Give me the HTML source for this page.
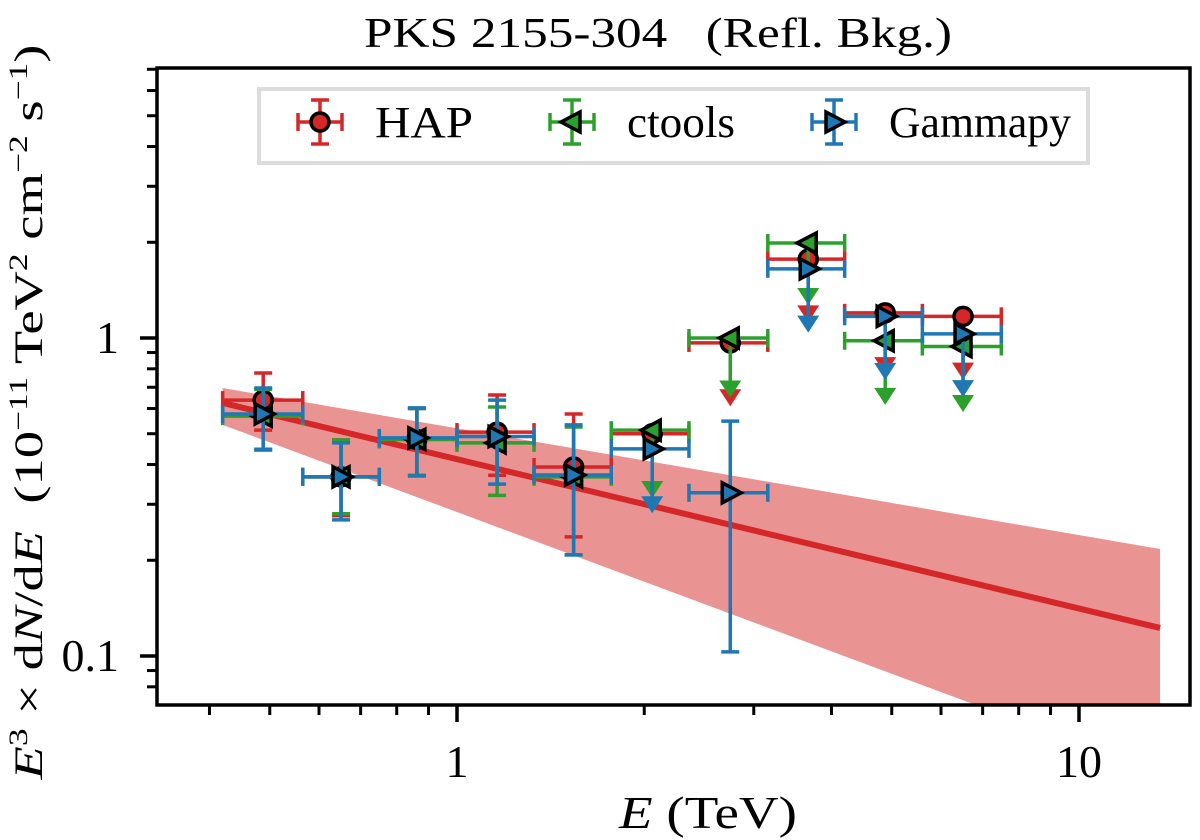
<!DOCTYPE html>
<html><head><meta charset="utf-8"><style>
html,body{margin:0;padding:0;background:#fff;}
svg{display:block;font-family:"Liberation Serif",serif;}
</style></head><body>
<svg id="chart" width="1200" height="840" viewBox="0 0 1200 840" xmlns="http://www.w3.org/2000/svg">
<defs><clipPath id="clip"><rect x="157" y="68" width="1033" height="637"/></clipPath></defs>
<text x="658" y="47" font-size="42" textLength="588" lengthAdjust="spacingAndGlyphs" text-anchor="middle">PKS 2155-304 &#160;&#160;(Refl. Bkg.)</text>
<g id="plot" clip-path="url(#clip)"></g>
<g id="axes"></g>
<text x="708" y="828" text-anchor="middle" font-size="46" textLength="178" lengthAdjust="spacingAndGlyphs"><tspan font-style="italic">E</tspan> (TeV)</text>
<text transform="translate(42,412) rotate(-90)" text-anchor="middle" font-size="40" textLength="735" lengthAdjust="spacingAndGlyphs"><tspan font-style="italic">E</tspan><tspan font-size="26" dy="-15">3</tspan><tspan dy="15"> × d</tspan><tspan font-style="italic">N</tspan>/d<tspan font-style="italic">E</tspan>&#160;&#160;(10<tspan font-size="26" dy="-15">−11</tspan><tspan dy="15"> TeV</tspan><tspan font-size="26" dy="-15">2</tspan><tspan dy="15"> cm</tspan><tspan font-size="26" dy="-15">−2</tspan><tspan dy="15"> s</tspan><tspan font-size="26" dy="-15">−1</tspan><tspan dy="15">)</tspan></text>
<g>
<rect x="259" y="89" width="829" height="74" fill="#fff" stroke="#dcdcdc" stroke-width="4"/>
<g id="legend-items"></g>
</g>
</svg>
<script>
const energies=[0.488,0.651,0.862,1.16,1.54,2.06,2.75,3.67,4.88,6.51];
const binLo=[0.420,0.565,0.750,1.0,1.33,1.77,2.36,3.16,4.2,5.6];
const binHi=[0.565,0.750,1.0,1.33,1.77,2.36,3.16,4.2,5.6,7.5];
const hapVal=[0.638,0.366,0.48,0.506,0.393,0.50,0.965,1.77,1.20,1.17];
const hapLo=[0.513,0.276,0.37,0.37,0.237,null,null,null,null,null];
const hapHi=[0.776,0.478,0.60,0.662,0.577,null,null,null,null,null];
const hapUL=[null,null,null,null,null,null,0.61,1.12,0.77,0.74];
const ctVal=[0.568,0.366,0.48,0.468,0.366,0.513,1.0,1.99,0.98,0.94];
const ctLo=[0.444,0.28,0.37,0.32,0.208,null,null,null,null,null];
const ctHi=[0.69,0.478,0.60,0.607,0.525,null,null,null,null,null];
const ctUL=[null,null,null,null,null,0.314,0.65,1.27,0.616,0.585];
const gpVal=[0.577,0.366,0.485,0.49,0.371,0.448,0.326,1.65,1.17,1.03];
const gpLo=[0.447,0.268,0.368,0.347,0.208,null,0.103,null,null,null];
const gpHi=[0.696,0.468,0.603,0.638,0.533,null,0.548,null,null,null];
const gpUL=[null,null,null,null,null,0.281,null,1.04,0.738,0.652];
const modelE=[0.42,13.5];
const modelVal=[0.625,0.1225];
const bandUpper=[0.696,0.217];
const bandLower=[0.533,0.0427];
const xTicks=[1,10];
const xTickLabels=["1","10"];
const yTicks=[0.1,1];
const yTickLabels=["0.1","1"];

const NS="http://www.w3.org/2000/svg";
const X0=157,X1=1190,Y0=68,Y1=705;
function sx(e){return 457+622*Math.log10(e);}
function sy(v){return 338-318*Math.log10(v);}
function mk(tag,attrs,parent){const el=document.createElementNS(NS,tag);for(const k in attrs)el.setAttribute(k,attrs[k]);parent.appendChild(el);return el;}
const plot=document.getElementById('plot'),axes=document.getElementById('axes');

let pts=[];
for(let i=0;i<modelE.length;i++)pts.push(sx(modelE[i])+','+sy(bandUpper[i]));
for(let i=modelE.length-1;i>=0;i--)pts.push(sx(modelE[i])+','+sy(bandLower[i]));
const band=mk('polygon',{points:pts.join(' '),fill:'#d62728','fill-opacity':0.5},plot);


const ml=mk('polyline',{points:modelE.map((e,i)=>sx(e)+','+sy(modelVal[i])).join(' '),fill:'none',stroke:'#d62728','stroke-width':6},plot);



function marker(type,x,y,color,parent){
  let el;
  if(type==='circle')el=mk('circle',{cx:x,cy:y,r:9,fill:color,stroke:'#000','stroke-width':3.5},parent);
  else if(type==='left')el=mk('polygon',{points:`${x-11},${y} ${x+8},${y-10} ${x+8},${y+10}`,fill:color,stroke:'#000','stroke-width':3.5,'stroke-linejoin':'miter'},parent);
  else el=mk('polygon',{points:`${x+11},${y} ${x-8},${y-10} ${x-8},${y+10}`,fill:color,stroke:'#000','stroke-width':3.5,'stroke-linejoin':'miter'},parent);
  return el;
}
const series=[
 {name:'hap',color:'#d62728',m:'circle',val:hapVal,lo:hapLo,hi:hapHi,ul:hapUL},
 {name:'ctools',color:'#2ca02c',m:'left',val:ctVal,lo:ctLo,hi:ctHi,ul:ctUL},
 {name:'gammapy',color:'#1f77b4',m:'right',val:gpVal,lo:gpLo,hi:gpHi,ul:gpUL}];
series.forEach(s=>{
  const g=mk('g',{},plot);
  
  
  energies.forEach((e,i)=>{
    const x=sx(e),y=sy(s.val[i]);
    const pg=mk('g',{stroke:s.color,'stroke-width':3.5,fill:'none'},g);
    
    
    const xl=sx(binLo[i]),xh=sx(binHi[i]);
    mk('line',{x1:xl,y1:y,x2:xh,y2:y},pg);
    mk('line',{x1:xl,y1:y-9,x2:xl,y2:y+9},pg);
    mk('line',{x1:xh,y1:y-9,x2:xh,y2:y+9},pg);
    if(s.lo[i]!=null){
      const yl=sy(s.lo[i]),yh=sy(s.hi[i]);
      mk('line',{x1:x,y1:yh,x2:x,y2:yl},pg);
      mk('line',{x1:x-9,y1:yh,x2:x+9,y2:yh},pg);
      mk('line',{x1:x-9,y1:yl,x2:x+9,y2:yl},pg);
    }
    if(s.ul[i]!=null){
      const yt=sy(s.ul[i]);
      mk('line',{x1:x,y1:y,x2:x,y2:yt-12},pg);
      mk('polygon',{points:`${x-11},${yt-17} ${x+11},${yt-17} ${x},${yt}`,fill:s.color,stroke:'none'},pg);
    }
    marker(s.m,x,y,s.color,pg);
  });
});

const fr=mk('rect',{x:X0,y:Y0,width:X1-X0,height:Y1-Y0,fill:'none',stroke:'#000','stroke-width':3.5},axes);


for(let d=-1;d<=1;d++)for(let k=1;k<10;k++){
  const e=k*Math.pow(10,d);
  if(e<0.3268||e>15.07)continue;
  const x=sx(e),major=(k===1);
  mk('line',{x1:x,y1:Y1,x2:x,y2:Y1+(major?17:10),stroke:'#000','stroke-width':major?3.5:3},axes);
}
for(let d=-2;d<=0;d++)for(let k=1;k<10;k++){
  const v=k*Math.pow(10,d);
  if(v<0.0702||v>7.07)continue;
  const y=sy(v),major=(k===1);
  mk('line',{x1:X0,y1:y,x2:X0-(major?17:10),y2:y,stroke:'#000','stroke-width':major?3.5:3},axes);
}
xTicks.forEach((t,i)=>{
  const tx=mk('text',{x:sx(t),y:Y1+72,'text-anchor':'middle','font-size':46},axes);
  tx.textContent=xTickLabels[i];
  
  
});
yTicks.forEach((t,i)=>{
  const tx=mk('text',{x:X0-38,y:sy(t)+15,'text-anchor':'end','font-size':46},axes);
  tx.textContent=yTickLabels[i];
  
  
});

const lg=document.getElementById('legend-items');
const legendX=[320,572,834],legendText=['HAP','ctools','Gammapy'],legendW=[98,108,182];
series.forEach((s,i)=>{
  const g=mk('g',{stroke:s.color,'stroke-width':3.5,fill:'none'},lg);
  
  
  const x=legendX[i],y=122;
  mk('line',{x1:x-22,y1:y,x2:x+22,y2:y},g);
  mk('line',{x1:x-22,y1:y-9,x2:x-22,y2:y+9},g);
  mk('line',{x1:x+22,y1:y-9,x2:x+22,y2:y+9},g);
  mk('line',{x1:x,y1:y-22,x2:x,y2:y+22},g);
  mk('line',{x1:x-9,y1:y-22,x2:x+9,y2:y-22},g);
  mk('line',{x1:x-9,y1:y+22,x2:x+9,y2:y+22},g);
  marker(s.m,x,y,s.color,g);
  const t=mk('text',{x:x+55,y:y+15,'font-size':44,fill:'#000',stroke:'none',textLength:legendW[i],lengthAdjust:'spacingAndGlyphs'},g);
  t.textContent=legendText[i];
});
</script>
</body></html>
